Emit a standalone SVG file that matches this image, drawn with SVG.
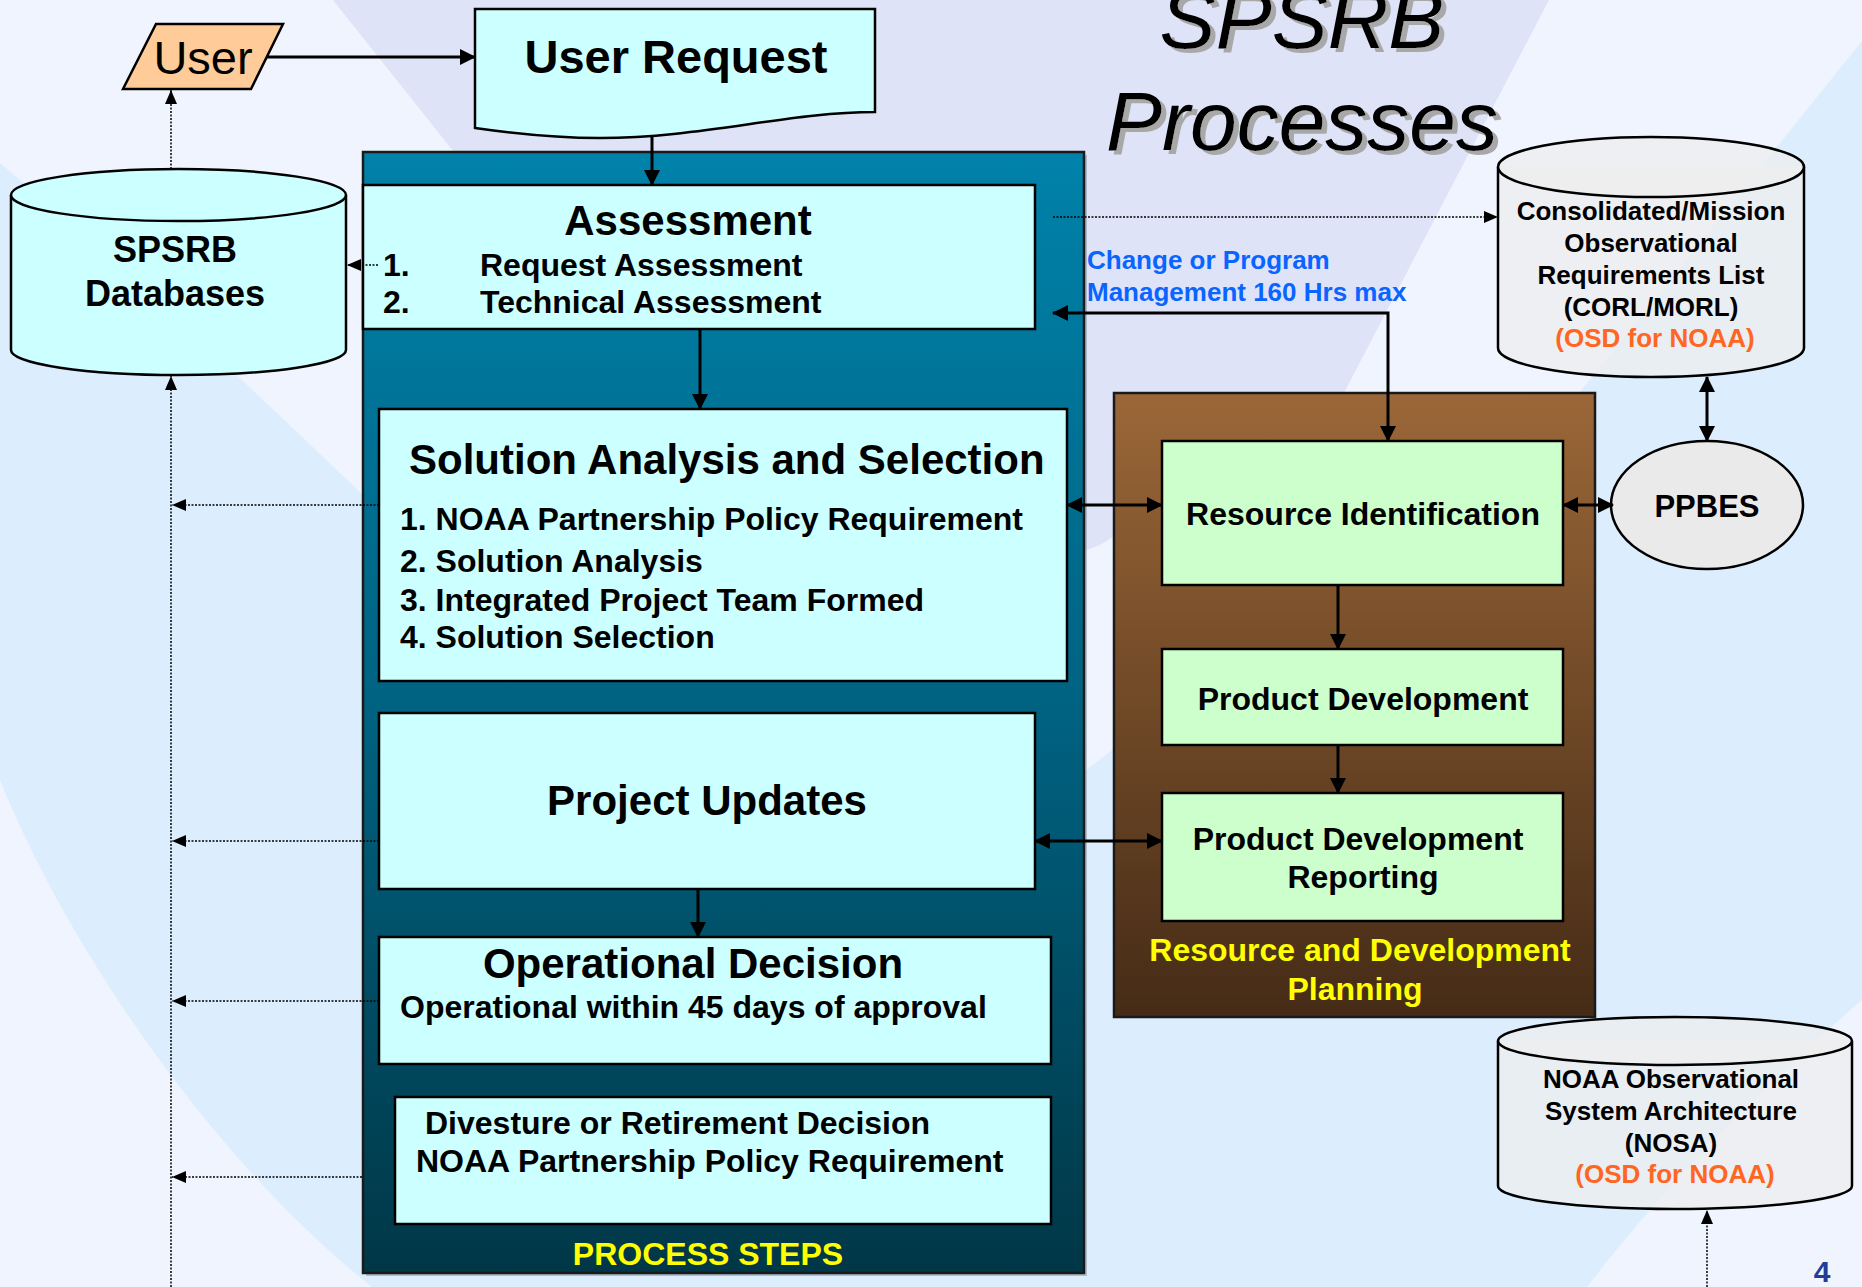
<svg xmlns="http://www.w3.org/2000/svg" width="1862" height="1287" viewBox="0 0 1862 1287">
<style>
.t{font-family:"Liberation Sans",Arial,Helvetica,sans-serif;font-weight:bold;fill:#000}
.m{text-anchor:middle}
.f26{font-size:26px}.f31{font-size:31px}.f32{font-size:32px}.f36{font-size:36px}.f42{font-size:42px}.f47{font-size:47px}
.cy{fill:#ccffff;stroke:#000;stroke-width:2.5}
.gr{fill:#ccffcc;stroke:#000;stroke-width:2.5}
.db{fill:#eeeeee;fill-opacity:0.75;stroke:#000;stroke-width:2.5}
.yl{fill:#ffff00}
.or{fill:#ff6622}
.bl{fill:#0a64ff}
.c{fill:none;stroke:#000;stroke-width:3}
.d{fill:none;stroke:#000;stroke-width:1.5;stroke-dasharray:2 1.5}
.ttl{font-family:"Liberation Sans",Arial,Helvetica,sans-serif;font-style:italic;font-size:84px;text-anchor:middle;fill:#000}
</style>
<defs>
<linearGradient id="teal" x1="0" y1="0" x2="0" y2="1">
<stop offset="0" stop-color="#0082aa"/>
<stop offset="0.5" stop-color="#006281"/>
<stop offset="1" stop-color="#003747"/>
</linearGradient>
<linearGradient id="brown" x1="0" y1="0" x2="0" y2="1">
<stop offset="0" stop-color="#9b6738"/>
<stop offset="1" stop-color="#452b16"/>
</linearGradient>
<filter id="shadow" x="-10%" y="-20%" width="120%" height="140%">
<feOffset in="SourceAlpha" dx="5" dy="4" result="off"/>
<feFlood flood-color="#a8a8a8"/>
<feComposite in2="off" operator="in" result="sh"/>
<feMerge><feMergeNode in="sh"/><feMergeNode in="SourceGraphic"/></feMerge>
</filter>
<marker id="ah" viewBox="0 0 16 16" refX="15" refY="8" markerWidth="16" markerHeight="16" markerUnits="userSpaceOnUse" orient="auto-start-reverse"><path d="M0,0 L16,8 L0,16 Z" fill="#000"/></marker>
<marker id="ahd" viewBox="0 0 14 12" refX="14" refY="6" markerWidth="14" markerHeight="12" markerUnits="userSpaceOnUse" orient="auto-start-reverse"><path d="M0,0 L14,6 L0,12 Z" fill="#000"/></marker>
</defs>

<g id="background">
<rect width="1862" height="1287" fill="#dcedfd"/>
<path d="M0,0 L333,0 L452,147 L470,170 L470,520 L365,497 Q150,290 0,163 Z" fill="#f0f4fe"/>
<path d="M0,780 C60,930 200,1150 372,1287 L0,1287 Z" fill="#f0f4fe"/>
<path d="M333,0 L1549,0 L1344,393 L1100,545 L1000,620 L500,210 Z" fill="#dee3f7"/>
<path d="M1549,0 L1862,0 L1862,41 L1579,393 L1060,790 L1060,560 L1100,545 L1344,393 Z" fill="#f0f4fe"/>
<path d="M1862,1000 Q1700,1140 1587,1287 L1862,1287 Z" fill="#f0f4fe"/>
</g>

<g id="title" filter="url(#shadow)">
<text class="ttl" x="1302" y="48">SPSRB</text>
<text class="ttl" x="1302" y="150">Processes</text>
</g>

<g id="process-steps">
<rect x="366" y="155" width="721" height="1121" fill="#8090a0" opacity="0.5"/>
<rect x="363" y="152" width="721" height="1121" fill="url(#teal)" stroke="#1a1a1a" stroke-width="2.5"/>
<text class="t f32 m yl" x="708" y="1265">PROCESS STEPS</text>
</g>

<g id="rd-planning">
<rect x="1114" y="393" width="481" height="624" fill="url(#brown)" stroke="#1a1a1a" stroke-width="2.5"/>
<text class="t f32 m yl" x="1360" y="961">Resource and Development</text>
<text class="t f32 m yl" x="1355" y="1000">Planning</text>
</g>

<g id="user">
<path d="M123,89 L156,24 L283,24 L251,89 Z" fill="#ffcc99" stroke="#000" stroke-width="2.5"/>
<text x="203" y="74" font-family="Liberation Sans,Arial,sans-serif" font-size="47" text-anchor="middle" fill="#000">User</text>
</g>

<g id="user-request">
<path d="M475,9 H875 V112 C790,112 700,138 600,138 C550,138 510,133 475,128 Z" fill="#ccffff" stroke="#000" stroke-width="2.5"/>
<text class="t f47 m" x="676" y="73">User Request</text>
</g>

<g id="spsrb-databases">
<path d="M11,195 A167.5,26 0 0 1 346,195 V350 A167.5,25 0 0 1 11,350 Z" class="cy"/>
<path d="M11,195 A167.5,26 0 0 0 346,195" class="cy"/>
<text class="t f36 m" x="175" y="262">SPSRB</text>
<text class="t f36 m" x="175" y="306">Databases</text>
</g>

<g id="assessment">
<rect x="363" y="185" width="672" height="144" class="cy"/>
<text class="t f42 m" x="688" y="235">Assessment</text>
<text class="t f32" x="383" y="276">1.</text>
<text class="t f32" x="480" y="276">Request Assessment</text>
<text class="t f32" x="383" y="313">2.</text>
<text class="t f32" x="480" y="313">Technical Assessment</text>
</g>

<g id="solution-analysis">
<rect x="379" y="409" width="688" height="272" class="cy"/>
<text class="t f42" x="409" y="474">Solution Analysis and Selection</text>
<text class="t f32" x="400" y="530">1. NOAA Partnership Policy Requirement</text>
<text class="t f32" x="400" y="572">2. Solution Analysis</text>
<text class="t f32" x="400" y="611">3. Integrated Project Team Formed</text>
<text class="t f32" x="400" y="648">4. Solution Selection</text>
</g>

<g id="project-updates">
<rect x="379" y="713" width="656" height="176" class="cy"/>
<text class="t f42 m" x="707" y="815">Project Updates</text>
</g>

<g id="operational-decision">
<rect x="379" y="937" width="672" height="127" class="cy"/>
<text class="t f42 m" x="693" y="978">Operational Decision</text>
<text class="t f32" x="400" y="1018">Operational within 45 days of approval</text>
</g>

<g id="divesture">
<rect x="395" y="1097" width="656" height="127" class="cy"/>
<text class="t f32" x="425" y="1134">Divesture or Retirement Decision</text>
<text class="t f32" x="416" y="1172">NOAA Partnership Policy Requirement</text>
</g>

<g id="resource-identification">
<rect x="1162" y="441" width="401" height="144" class="gr"/>
<text class="t f32 m" x="1363" y="525">Resource Identification</text>
</g>

<g id="product-development">
<rect x="1162" y="649" width="401" height="96" class="gr"/>
<text class="t f32 m" x="1363" y="710">Product Development</text>
</g>

<g id="pd-reporting">
<rect x="1162" y="793" width="401" height="128" class="gr"/>
<text class="t f32 m" x="1358" y="850">Product Development</text>
<text class="t f32 m" x="1363" y="888">Reporting</text>
</g>

<g id="ppbes">
<ellipse cx="1707" cy="505" rx="96" ry="64" fill="#eaeaea" stroke="#000" stroke-width="2.5"/>
<text class="t f31 m" x="1707" y="517">PPBES</text>
</g>

<g id="corl">
<path d="M1498,167 A153,30 0 0 1 1804,167 V348 A153,29 0 0 1 1498,348 Z" class="db"/>
<path d="M1498,167 A153,30 0 0 0 1804,167" class="db"/>
<text class="t f26 m" x="1651" y="220">Consolidated/Mission</text>
<text class="t f26 m" x="1651" y="252">Observational</text>
<text class="t f26 m" x="1651" y="284">Requirements List</text>
<text class="t f26 m" x="1651" y="316">(CORL/MORL)</text>
<text class="t f26 m or" x="1655" y="347">(OSD for NOAA)</text>
</g>

<g id="nosa">
<path d="M1498,1041 A177,24 0 0 1 1852,1041 V1186 A177,23 0 0 1 1498,1186 Z" class="db"/>
<path d="M1498,1041 A177,24 0 0 0 1852,1041" class="db"/>
<text class="t f26 m" x="1671" y="1088">NOAA Observational</text>
<text class="t f26 m" x="1671" y="1120">System Architecture</text>
<text class="t f26 m" x="1671" y="1152">(NOSA)</text>
<text class="t f26 m or" x="1675" y="1183">(OSD for NOAA)</text>
</g>

<g id="labels">
<text class="t f26 bl" x="1087" y="269">Change or Program</text>
<text class="t f26 bl" x="1087" y="301">Management 160 Hrs max</text>
<text x="1822" y="1282" font-family="Liberation Sans,Arial,sans-serif" font-weight="bold" font-size="30" text-anchor="middle" fill="#1f3d99">4</text>
</g>

<g id="connectors">
<line class="c" x1="267" y1="57" x2="475" y2="57" marker-end="url(#ah)"/>
<line class="c" x1="652" y1="137" x2="652" y2="185" marker-end="url(#ah)"/>
<line class="c" x1="700" y1="329" x2="700" y2="409" marker-end="url(#ah)"/>
<line class="c" x1="698" y1="889" x2="698" y2="937" marker-end="url(#ah)"/>
<line class="c" x1="1067" y1="505" x2="1162" y2="505" marker-start="url(#ah)" marker-end="url(#ah)"/>
<line class="c" x1="1035" y1="841" x2="1162" y2="841" marker-start="url(#ah)" marker-end="url(#ah)"/>
<line class="c" x1="1338" y1="585" x2="1338" y2="649" marker-end="url(#ah)"/>
<line class="c" x1="1338" y1="745" x2="1338" y2="793" marker-end="url(#ah)"/>
<line class="c" x1="1563" y1="505" x2="1613" y2="505" marker-start="url(#ah)" marker-end="url(#ah)"/>
<line class="c" x1="1707" y1="377" x2="1707" y2="441" marker-start="url(#ah)" marker-end="url(#ah)"/>
<polyline class="c" points="1053,313 1388,313 1388,441" marker-start="url(#ah)" marker-end="url(#ah)"/>
<line class="d" x1="1053" y1="217" x2="1498" y2="217" marker-end="url(#ahd)"/>
<line class="d" x1="378" y1="265" x2="347" y2="265" marker-end="url(#ahd)"/>
<line class="d" x1="171" y1="169" x2="171" y2="90" marker-end="url(#ahd)"/>
<line class="d" x1="171" y1="1287" x2="171" y2="376" marker-end="url(#ahd)"/>
<line class="d" x1="379" y1="505" x2="172" y2="505" marker-end="url(#ahd)"/>
<line class="d" x1="379" y1="841" x2="172" y2="841" marker-end="url(#ahd)"/>
<line class="d" x1="379" y1="1001" x2="172" y2="1001" marker-end="url(#ahd)"/>
<line class="d" x1="362" y1="1177" x2="172" y2="1177" marker-end="url(#ahd)"/>
<line class="d" x1="1707" y1="1287" x2="1707" y2="1210" marker-end="url(#ahd)"/>
</g>
</svg>
